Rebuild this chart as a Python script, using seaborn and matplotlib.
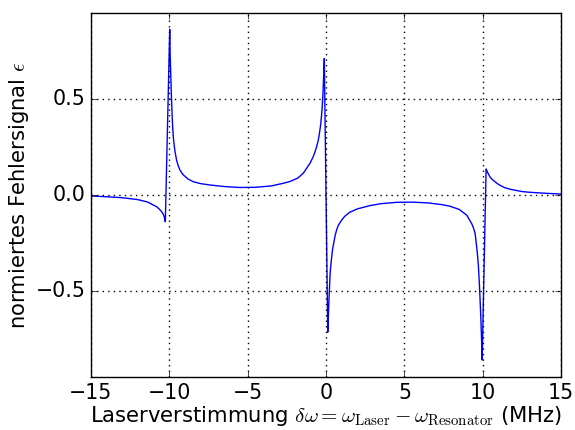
import matplotlib
matplotlib.use("Agg")
import matplotlib.pyplot as plt
import pandas as pd
import seaborn as sns

# Verstimmung in MHz und normiertes Fehlersignal
verstimmung = [
    -15.0, -14.0, -13.0, -12.0, -11.4, -10.8, -10.65, -10.5, -10.44, -10.38,
    -10.3, -10.25, -9.97, -9.94, -9.90, -9.86, -9.82, -9.78, -9.74, -9.68,
    -9.62, -9.53, -9.42, -9.32, -9.2, -9.1, -8.8, -8.47, -8.0, -7.4,
    -6.5, -5.5, -4.5, -3.5, -2.72, -2.3, -1.8, -1.45, -1.02, -0.81,
    -0.7, -0.6, -0.49, -0.42, -0.35, -0.29, -0.24, -0.2, -0.17, -0.14,
    -0.11,
    0.11, 0.14, 0.17, 0.21, 0.26, 0.3, 0.35, 0.42, 0.49, 0.58,
    0.68, 0.8, 1.0, 1.2, 1.5, 2.0, 2.8, 3.5, 4.5, 5.5,
    6.5, 7.4, 7.9, 8.5, 8.98, 9.3, 9.4, 9.51, 9.58, 9.65,
    9.72, 9.78, 9.83, 9.88, 9.92, 9.96, 10.21, 10.25, 10.3, 10.37,
    10.45, 10.55, 10.68, 10.85, 11.0, 11.2, 11.4, 11.74, 12.5, 13.0,
    14.0, 15.0,
]
fehlersignal = [
    -0.005, -0.009, -0.014, -0.024, -0.036, -0.061, -0.072, -0.085, -0.092, -0.100,
    -0.118, -0.139, 0.86, 0.72, 0.62, 0.51, 0.42, 0.35, 0.30, 0.255,
    0.22, 0.18, 0.15, 0.13, 0.115, 0.104, 0.083, 0.069, 0.059, 0.052,
    0.044, 0.039, 0.040, 0.047, 0.061, 0.070, 0.088, 0.113, 0.165, 0.20,
    0.225, 0.25, 0.286, 0.32, 0.36, 0.41, 0.46, 0.52, 0.58, 0.64,
    0.708,
    -0.712, -0.65, -0.58, -0.50, -0.41, -0.37, -0.33, -0.28, -0.25, -0.21,
    -0.18, -0.155, -0.13, -0.11, -0.09, -0.072, -0.055, -0.045, -0.038, -0.037,
    -0.041, -0.050, -0.058, -0.075, -0.105, -0.15, -0.17, -0.20, -0.25, -0.30,
    -0.37, -0.46, -0.55, -0.65, -0.75, -0.856, 0.135, 0.128, 0.118, 0.107,
    0.095, 0.085, 0.075, 0.064, 0.055, 0.046, 0.038, 0.030, 0.018, 0.014,
    0.009, 0.005,
]

plt.style.use("classic")
plt.rcParams["figure.facecolor"] = "white"
plt.rcParams["savefig.facecolor"] = "white"
plt.rcParams["mathtext.fontset"] = "cm"

df = pd.DataFrame({"x": verstimmung, "y": fehlersignal})

fig, ax = plt.subplots(figsize=(5.75, 4.3), dpi=100)
fig.subplots_adjust(left=0.158, right=0.976, top=0.970, bottom=0.123)

sns.lineplot(data=df, x="x", y="y", color="b", linewidth=1.0,
             estimator=None, sort=False, ax=ax)

ax.set_xlim(-15, 15)
ax.set_ylim(-0.945, 0.945)
ax.set_xticks([-15, -10, -5, 0, 5, 10, 15])
ax.set_yticks([-0.5, 0.0, 0.5])
ax.grid(True, color="k", linestyle=":", linewidth=1.0)
ax.tick_params(labelsize=14.8, direction="in", top=True, right=True)

ax.set_xlabel(r"Laserverstimmung $\delta\omega = \omega_{\rm Laser} - \omega_{\rm Resonator}$ (MHz)",
              fontsize=15.2, labelpad=1)
ax.set_ylabel(r"normiertes Fehlersignal $\epsilon$", fontsize=15.2, labelpad=3)

fig.savefig("out.png", dpi=100)
